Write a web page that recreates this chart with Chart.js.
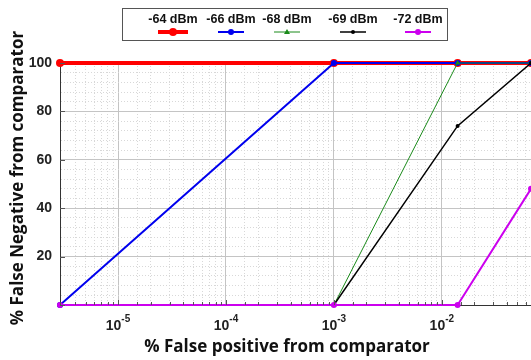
<!DOCTYPE html>
<html>
<head>
<meta charset="utf-8">
<script src="https://cdn.jsdelivr.net/npm/chart.js@4/dist/chart.umd.min.js"></script>
<style>
  html, body { margin: 0; padding: 0; background: #fff; }
  #wrap { position: relative; width: 531px; height: 360px; }
  #legend {
    position: absolute; left: 122px; top: 8px; width: 324px; height: 31px;
    border: 1.5px solid #555; box-sizing: content-box;
  }
  .item { position: absolute; top: 0; width: 60px; margin-left: -30px; text-align: center;
    font: bold 12.5px "Liberation Sans", Arial, sans-serif; color: #111; }
  .item span { display: block; margin-top: 3px; line-height: 14px; }
  .item svg { display: block; margin: 1px auto 0; }
</style>
</head>
<body>
<div id="wrap">
  <canvas id="c" width="531" height="360"></canvas>
  <div id="legend"></div>
</div>
<script>
// data
const seriesNames = ['-64 dBm', '-66 dBm', '-68 dBm', '-69 dBm', '-72 dBm'];
const xValues = [2.9e-6, 1e-3, 0.014, 0.067];
const s64 = [100, 100, 100, 100];
const s66 = [0, 100, 100, 100];
const s68 = [0, 0, 100, 100];
const s69 = [0, 0, 74, 100];
const s72 = [0, 0, 0, 48];
const decades = [-5, -4, -3, -2];
const yLabels = [20, 40, 60, 80, 100];
const xTitle = '% False positive from comparator';
const yTitle = '% False Negative from comparator';

const colors = ['#ff0000', '#0000ee', '#1a8a1a', '#000000', '#cc00ee'];
const widths = [4, 2, 1, 1.5, 2];
const styles = ['circle', 'circle', 'triangle', 'circle', 'circle'];
const radii = [4, 3, 3, 2, 3];
const legendX = [172, 230, 286, 352, 417];

const allSeries = [s64, s66, s68, s69, s72];

const datasets = allSeries.map((vals, i) => ({
  label: seriesNames[i],
  data: vals.map((v, j) => ({ x: xValues[j], y: v })),
  borderColor: colors[i],
  backgroundColor: colors[i],
  borderWidth: widths[i],
  pointStyle: styles[i],
  pointRadius: radii[i],
  pointBorderWidth: 0,
  order: 5 - i,
  clip: false,
  tension: 0
}));

function isDecade(v) {
  const l = Math.log10(v);
  return Math.abs(l - Math.round(l)) < 1e-6;
}

// superscript decade labels, small inner tick marks and the axis titles
const extras = {
  id: 'extras',
  afterDraw(chart) {
    const ctx = chart.ctx;
    const xs = chart.scales.x;
    const ys = chart.scales.y;
    const area = chart.chartArea;
    ctx.save();

    // small tick marks inside the plot
    ctx.strokeStyle = '#555';
    ctx.lineWidth = 1;
    ctx.beginPath();
    xs.ticks.forEach(t => {
      const px = Math.round(xs.getPixelForValue(t.value)) + 0.5;
      const len = isDecade(t.value) ? 5 : 3;
      ctx.moveTo(px, area.bottom);
      ctx.lineTo(px, area.bottom - len);
    });
    ys.ticks.forEach(t => {
      const py = Math.round(ys.getPixelForValue(t.value)) + 0.5;
      const len = t.value % 20 === 0 ? 5 : 0;
      ctx.moveTo(area.left, py);
      ctx.lineTo(area.left + len, py);
    });
    ctx.stroke();

    ctx.fillStyle = '#222';
    ctx.textBaseline = 'middle';
    decades.forEach(d => {
      const px = xs.getPixelForValue(Math.pow(10, d));
      ctx.font = 'bold 14px "Liberation Sans", Arial, sans-serif';
      const w1 = ctx.measureText('10').width;
      ctx.font = 'bold 10px "Liberation Sans", Arial, sans-serif';
      const exp = '-' + Math.abs(d);
      const w2 = ctx.measureText(exp).width;
      const x0 = px - (w1 + w2) / 2;
      ctx.textAlign = 'left';
      ctx.font = 'bold 14px "Liberation Sans", Arial, sans-serif';
      ctx.fillText('10', x0, 326);
      ctx.font = 'bold 10px "Liberation Sans", Arial, sans-serif';
      ctx.fillText(exp, x0 + w1, 319);
    });

    ctx.fillStyle = '#111';
    ctx.textAlign = 'center';
    ctx.font = 'bold 17px "Open Sans", sans-serif';
    ctx.fillText(xTitle, 287, 347);
    ctx.translate(18, 178);
    ctx.rotate(-Math.PI / 2);
    ctx.fillText(yTitle, 0, 0);
    ctx.restore();
  }
};

new Chart(document.getElementById('c'), {
  type: 'line',
  data: { datasets: datasets },
  plugins: [extras],
  options: {
    responsive: false,
    animation: false,
    layout: { autoPadding: false, padding: { top: 63, right: 0, left: 0, bottom: 0 } },
    plugins: { legend: { display: false }, tooltip: { enabled: false } },
    scales: {
      x: {
        type: 'logarithmic',
        min: xValues[0],
        max: xValues[xValues.length - 1],
        afterFit: s => { s.height = 55; },
        ticks: { display: false },
        grid: {
          drawTicks: false,
          color: c => (c.tick && isDecade(c.tick.value)) ? '#c4c4c4' : '#d8d8d8',
          lineWidth: 1
        },
        border: {
          color: '#333', width: 1,
          dash: c => (c.tick && !isDecade(c.tick.value)) ? [1, 2] : []
        }
      },
      y: {
        min: 0,
        max: 100,
        afterFit: s => { s.width = 60; },
        ticks: {
          stepSize: 4,
          autoSkip: false,
          padding: 8,
          color: '#222',
          font: { family: '"Liberation Sans", Arial, sans-serif', size: 14, weight: 'bold' },
          callback: v => yLabels.includes(v) ? String(v) : ''
        },
        grid: {
          drawTicks: false,
          color: c => (c.tick && c.tick.value % 20 === 0) ? '#c4c4c4' : '#d8d8d8'
        },
        border: {
          color: '#333', width: 1,
          dash: c => (c.tick && c.tick.value % 20 !== 0) ? [1, 2] : []
        }
      }
    }
  }
});

// legend: label above a short line sample with its marker
const legend = document.getElementById('legend');
seriesNames.forEach((name, i) => {
  const div = document.createElement('div');
  div.className = 'item';
  div.style.left = (legendX[i] - 122) + 'px';
  const w = i === 0 ? 30 : 26;
  let marker;
  if (styles[i] === 'triangle') {
    marker = `<polygon points="${w / 2 - 3},7 ${w / 2 + 3},7 ${w / 2},2" fill="${colors[i]}"/>`;
  } else {
    marker = `<circle cx="${w / 2}" cy="5" r="${radii[i]}" fill="${colors[i]}"/>`;
  }
  div.innerHTML = `<span>${name}</span><svg width="${w}" height="10">` +
    `<line x1="0" y1="5" x2="${w}" y2="5" stroke="${colors[i]}" stroke-width="${widths[i]}"/>` +
    marker + `</svg>`;
  legend.appendChild(div);
});
</script>
</body>
</html>
